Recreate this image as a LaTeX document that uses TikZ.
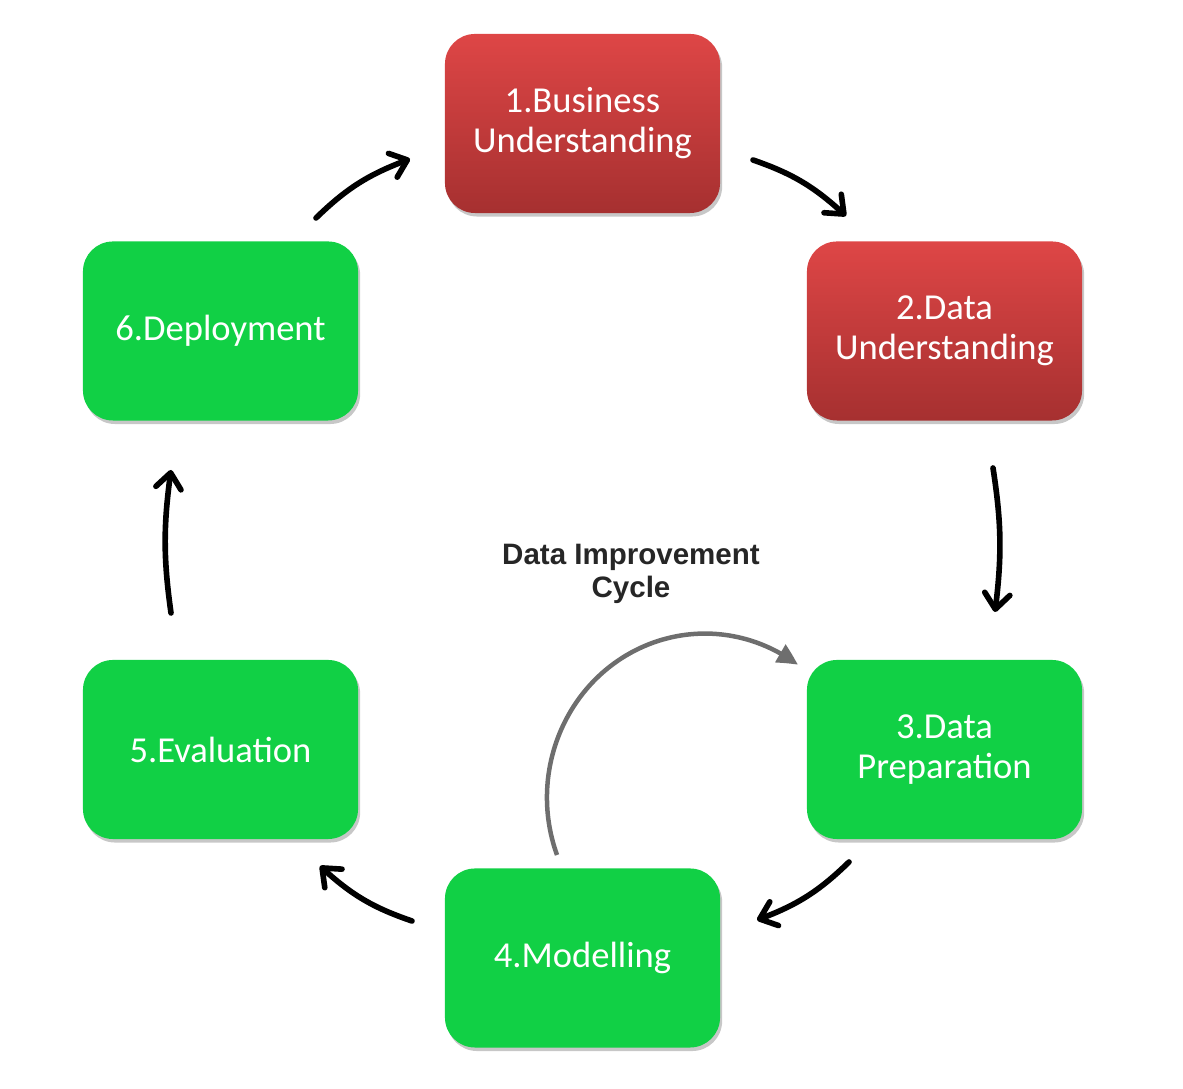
\documentclass[tikz,border=0pt]{standalone}
\usepackage{fontspec}
\setmainfont{Carlito}
\newfontfamily\titlefont{Liberation Sans}
\usetikzlibrary{arrows.meta,shadows,bending}
\definecolor{redtop}{RGB}{222,70,70}
\definecolor{redbot}{RGB}{166,48,48}
\definecolor{boxgreen}{RGB}{17,208,69}
\definecolor{arcgray}{RGB}{110,110,110}
\definecolor{titlegray}{RGB}{38,38,38}
\begin{document}
\begin{tikzpicture}[x=0.025cm,y=0.025cm,
  stagebox/.style={rounded corners=0.75cm, minimum width=6.875cm, minimum height=4.475cm,
    align=center, text=white, font=\fontsize{26}{28.5}\selectfont, inner sep=0pt,
    drop shadow={shadow xshift=1.5pt, shadow yshift=-2.5pt, fill=black, opacity=0.22}},
  redbox/.style={stagebox, top color=redtop, bottom color=redbot, draw=none},
  greenbox/.style={stagebox, fill=boxgreen},
  flow/.style={line width=4pt, line cap=round, -{Straight Barb[length=11pt,width=18pt,line cap=round,line join=round]}},
  cyclearrow/.style={line width=3.2pt, draw=arcgray, -{Triangle[length=15pt,width=14pt,bend]}, fill=none}]
\useasboundingbox (0,0) rectangle (1183,1089);
\node[redbox]   (b1) at (582.5,965.5) {1.Business\\Understanding};
\node[redbox]   (b2) at (944.5,758)   {2.Data\\Understanding};
\node[greenbox] (b3) at (944.5,339.5) {3.Data\\Preparation};
\node[greenbox] (b4) at (582.5,131)   {4.Modelling};
\node[greenbox] (b5) at (220.5,339.5) {5.Evaluation};
\node[greenbox] (b6) at (220.5,758)   {6.Deployment};
\node[font=\titlefont\bfseries\fontsize{21}{24}\selectfont, text=titlegray, align=center] (title) at (631,515) {Data Improvement\\Cycle};
% arrow end points
\coordinate (a1s) at (316,871); \coordinate (a1e) at (410,930);
\coordinate (a2s) at (753,929); \coordinate (a2e) at (846,873);
\coordinate (a3s) at (993,621); \coordinate (a3e) at (995,477);
\coordinate (a4s) at (849,227); \coordinate (a4e) at (757,169);
\coordinate (a5s) at (412,168); \coordinate (a5e) at (320,223);
\coordinate (a6s) at (171,476); \coordinate (a6e) at (171,619);
\draw[flow] (a1s) to[bend left=12] (a1e);
\draw[flow] (a2s) to[bend left=12] (a2e);
\draw[flow] (a3s) to[bend left=8] (a3e);
\draw[flow] (a4s) to[bend left=12] (a4e);
\draw[flow] (a5s) to[bend left=12] (a5e);
\draw[flow] (a6s) to[bend left=8] (a6e);
% data improvement cycle arc
\coordinate (arcs) at (557,234);
\draw[cyclearrow] (arcs) arc[start angle=200.5, end angle=54, x radius=158, y radius=164];
\end{tikzpicture}
\end{document}
